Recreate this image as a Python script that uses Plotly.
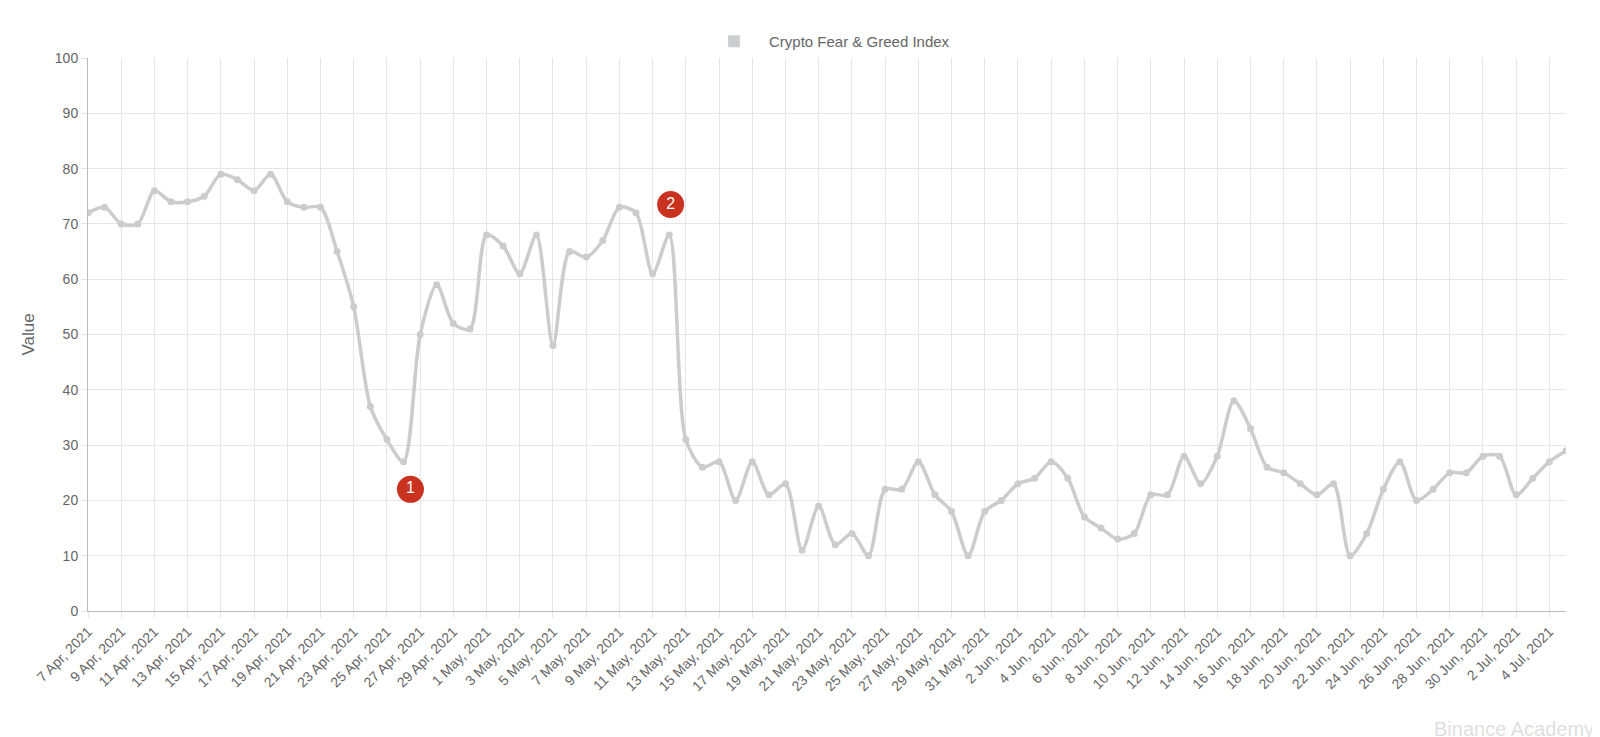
import pandas as pd
import plotly.graph_objects as go

start = '2021-04-07'
values = [72, 73, 70, 70, 76, 74, 74, 75, 79, 78, 76, 79, 74, 73, 73, 65, 55, 37, 31, 27,
          50, 59, 52, 51, 68, 66, 61, 68, 48, 65, 64, 67, 73, 72, 61, 68, 31, 26, 27, 20,
          27, 21, 23, 11, 19, 12, 14, 10, 22, 22, 27, 21, 18, 10, 18, 20, 23, 24, 27, 24,
          17, 15, 13, 14, 21, 21, 28, 23, 28, 38, 33, 26, 25, 23, 21, 23, 10, 14, 22, 27,
          20, 22, 25, 25, 28, 28, 21, 24, 27, 29]
dates = pd.date_range(start, periods=len(values), freq='D')

marker_x = ['2021-04-26 10:00', '2021-05-12 02:00']
marker_y = [22, 73.5]
marker_labels = ['1', '2']

tick_dates = dates[::2]
tick_text = [f'{d.day} {d.strftime("%b")}, {d.year}' for d in tick_dates]

fig = go.Figure()
# legend swatch only (box-shaped, like the original)
fig.add_bar(x=[dates[0]], y=[None], name='Crypto Fear & Greed Index',
            marker=dict(color='#cccccc'), hoverinfo='skip')
fig.add_scatter(x=dates, y=values, mode='lines+markers', name='Crypto Fear & Greed Index',
                line=dict(color='#cccccc', width=3.5, shape='spline', smoothing=0.8),
                marker=dict(color='#cccccc', size=7), showlegend=False)
fig.add_scatter(x=pd.to_datetime(marker_x), y=marker_y, mode='markers+text', text=marker_labels,
                textposition='middle center', textfont=dict(color='white', size=16),
                marker=dict(color='#c8321e', size=27), showlegend=False, hoverinfo='skip')

fig.add_annotation(text='Binance Academy', xref='paper', yref='paper', x=1.02, y=-0.19,
                   showarrow=False, font=dict(size=20, color='rgba(200,200,200,0.6)'),
                   xanchor='right', yanchor='top')

fig.update_layout(
    width=1600, height=737, plot_bgcolor='white', paper_bgcolor='white',
    font=dict(family='Liberation Sans, Arial', color='#666', size=14),
    margin=dict(l=80, r=42, t=50, b=134),
    legend=dict(orientation='h', x=0.5, xanchor='center', y=1.0, yanchor='bottom',
                font=dict(size=15), itemwidth=60),
)
fig.update_xaxes(range=[dates[0], dates[-1]], tickvals=tick_dates, ticktext=tick_text,
                 tickangle=-45, showgrid=True, gridcolor='#e6e6e6', showline=True,
                 linecolor='#bbb', ticks='outside', tickcolor='#e6e6e6', ticklen=6)
fig.update_yaxes(range=[0, 100], dtick=10, title_text='Value', showgrid=True, gridcolor='#e6e6e6',
                 showline=True, linecolor='#bbb', ticks='outside', tickcolor='#e6e6e6', ticklen=6,
                 zeroline=False)

fig.write_html('out.html')
